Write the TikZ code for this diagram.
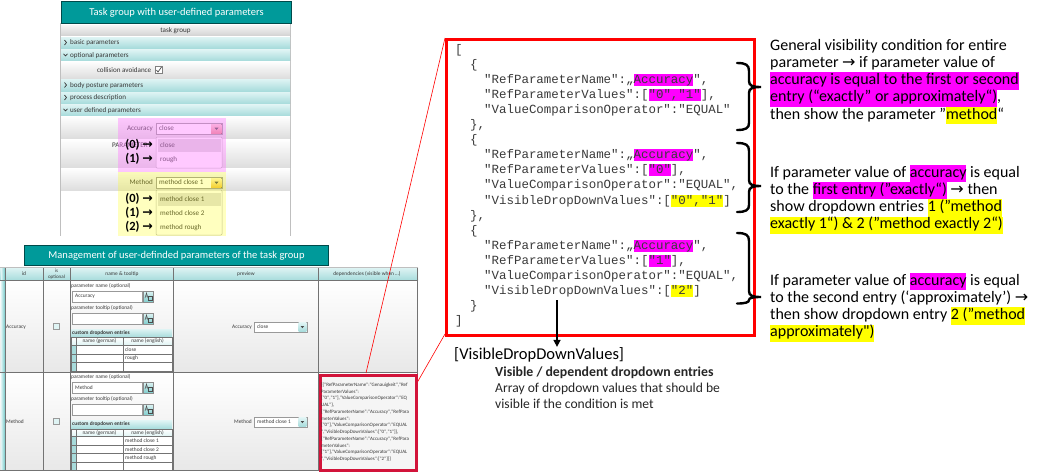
\documentclass[tikz,border=0pt]{standalone}
\usepackage{fontspec}
\setmainfont{Carlito}[Ligatures=TeXOff]
\newfontfamily\monof{Liberation Mono}[Ligatures=TeXOff]
\newfontfamily\dejavu{DejaVu Sans}
\usetikzlibrary{arrows.meta}
\definecolor{tealA}{HTML}{009A9A}
\definecolor{tealD}{HTML}{004A4A}
\definecolor{tealL1}{HTML}{DFF4F4}
\definecolor{tealL2}{HTML}{A8DCDC}
\definecolor{hlmag}{HTML}{FF00FF}
\definecolor{hlyel}{HTML}{FFFF00}
\definecolor{uitext}{HTML}{383838}
\definecolor{jsontext}{HTML}{3A3A3A}
\definecolor{depred}{HTML}{D2143A}
\definecolor{pinkov}{HTML}{FF80FF}
\definecolor{btnRa}{HTML}{F8D0D0}
\definecolor{btnRb}{HTML}{E88888}
\definecolor{btnYa}{HTML}{FFF4C0}
\definecolor{btnYb}{HTML}{F0C040}
\newcommand\hlM[1]{{\setlength\fboxsep{0pt}\colorbox{hlmag}{\strut #1}}}
\newcommand\hlY[1]{{\setlength\fboxsep{0pt}\colorbox{hlyel}{\strut #1}}}
\newcommand\jstrut{\vrule height 9.4pt depth 2.6pt width 0pt}
\newcommand\jM[1]{{\setlength\fboxsep{0pt}\colorbox{hlmag}{\jstrut #1}}}
\newcommand\jY[1]{{\setlength\fboxsep{0pt}\colorbox{hlyel}{\jstrut #1}}}
\newcommand\rarr{{\dejavu →}}
\newcommand\uiico[2]{%
  \fill[top color=tealL1, bottom color=tealA!50] (#1,#2) rectangle ++(9.5,11);
  \draw[black!45, line width=0.4pt] (#1,#2) rectangle ++(9.5,11);
  \draw[black!70, line width=0.5pt] (#1+1.5,#2+7) -- (#1+3,#2+2) -- (#1+4.5,#2+7) (#1+2.2,#2+5) -- (#1+3.8,#2+5);
  \draw[black!70, line width=0.5pt] (#1+5,#2+5) rectangle (#1+8.3,#2+9.3);}
\newcommand\uibox[2]{%
  \draw[black!40, fill=tealL1, line width=0.4pt] (#1,#2) rectangle ++(6,6);}
\tikzset{
  uit/.style={font=\fontsize{7.1}{8.2}\selectfont, text=uitext, inner sep=0pt, anchor=west},
  uis/.style={font=\fontsize{5.4}{6.4}\selectfont, text=uitext, inner sep=0pt, anchor=west},
  djson/.style={font=\fontsize{5}{6}\selectfont, text=uitext, inner sep=0pt, anchor=west},
  jline/.style={font=\monof\fontsize{12.45}{15.1}\selectfont, text=jsontext, inner sep=0pt, anchor=base west},
  rtext/.style={font=\fontsize{16}{17.3}\selectfont, text=black, inner sep=0pt, anchor=base west},
  btext/.style={font=\fontsize{13.6}{15.5}\selectfont, text=black!85, inner sep=0pt, anchor=base west},
  idx/.style={font=\bfseries\fontsize{12.5}{13}\selectfont, text=black, inner sep=0pt, anchor=east},
  titlebar/.style={fill=tealA, draw=tealD, line width=1.5pt, text=white, font=\fontsize{10.5}{12}\selectfont, anchor=north west, inner sep=0pt},
  secrow/.style={top color=tealL1, bottom color=tealL2},
  grayrow/.style={top color=white, bottom color=black!13},
  field/.style={draw=black!40, fill=white, line width=0.4pt},
  brace/.style={line width=2.4pt, black, line cap=round},
  chev/.style={line width=0.7pt, uitext},
  cellline/.style={draw=black!55, line width=0.5pt},
  redthin/.style={red, line width=0.6pt},
}
\begin{document}
\begin{tikzpicture}[x=1pt,y=-1pt]
\useasboundingbox (0,0) rectangle (1041,472);
\fill[white] (0,0) rectangle (1041,472);

% ================= top panel
\draw[black!25, line width=0.6pt] (60.5,23) -- (60.5,236) (290.5,23) -- (290.5,236);
\node[titlebar, minimum width=230pt, minimum height=22pt] (tgtitle) at (60.75,0.75) {Task group with user-defined parameters};
\fill[top color=black!4, bottom color=black!17] (61,25) rectangle (290,35.5);
\node[uit, anchor=center] (tg) at (175.5,30.3) {task group};
\fill[secrow] (61,37) rectangle (290,48);
\fill[secrow] (61,49.5) rectangle (290,60.5);
\fill[grayrow] (61,61) rectangle (290,78);
\fill[secrow] (61,79) rectangle (290,91);
\fill[secrow] (61,92) rectangle (290,103.5);
\fill[secrow] (61,104.5) rectangle (290,115.5);
\draw[chev] (64.5,40) -- (66.5,42.5) -- (64.5,45);
\node[uit] (s1) at (70,42.7) {basic parameters};
\draw[chev] (63.5,53.8) -- (65.5,55.8) -- (67.5,53.8);
\node[uit] (s2) at (70,55.2) {optional parameters};
\node[uit, anchor=east] (s3) at (151.5,70.5) {collision avoidance};
\draw[black!50, fill=white, line width=0.4pt] (155,66.5) rectangle (162,73.5);
\draw[black!70, line width=0.7pt] (156.5,70) -- (158,72) -- (161.5,67);
\draw[chev] (64.5,82.5) -- (66.5,85) -- (64.5,87.5);
\node[uit] (s4) at (70,85.2) {body posture parameters};
\draw[chev] (64.5,95) -- (66.5,97.5) -- (64.5,100);
\node[uit] (s5) at (70,97.8) {process description};
\draw[chev] (63.5,108.8) -- (65.5,110.8) -- (67.5,108.8);
\node[uit] (s6) at (70,110.2) {user defined parameters};
\fill[grayrow] (61,116) rectangle (290,138);
\fill[grayrow] (61,139) rectangle (290,167);
\fill[grayrow] (61,168) rectangle (290,190);
\node[uit] (pm) at (112,145.5) {PARAMETER};
% accuracy dropdown
\node[uit, anchor=east] (acl) at (153,128.5) {Accuracy};
\draw[field] (156,123) rectangle (222,134);
\node[uit] (acv) at (159,128.5) {close};
\fill[top color=btnRa, bottom color=btnRb] (211,124) rectangle (221.5,133.5);
\fill[black!70] (214.5,127.7) -- (218.5,127.7) -- (216.5,130) -- cycle;
\draw[black!30, fill=white, rounded corners=1pt, line width=0.5pt] (156,137) rectangle (222,168);
\fill[black!14] (157.5,139) rectangle (220.5,152);
\node[uit] (acla) at (160,145.5) {close};
\node[uit] (aclb) at (160,159.5) {rough};
% method dropdown
\node[uit, anchor=east] (mel) at (153,182.5) {Method};
\draw[field] (156,177) rectangle (222,188);
\node[uit] (mev) at (159,182.5) {method close 1};
\fill[top color=btnYa, bottom color=btnYb] (211,178) rectangle (221.5,187.5);
\fill[black!70] (214.5,181.7) -- (218.5,181.7) -- (216.5,184) -- cycle;
\draw[black!30, fill=white, rounded corners=1pt, line width=0.5pt] (156,190) rectangle (222,235);
\fill[black!12] (157.5,192.5) rectangle (220.5,206);
\node[uit] (mela) at (160,199.5) {method close 1};
\node[uit] (melb) at (160,213.5) {method close 2};
\node[uit] (melc) at (160,227.5) {method rough};
% overlays
\fill[pinkov, fill opacity=0.42] (118,118) rectangle (226,172);
\fill[hlyel, fill opacity=0.25] (118,172) rectangle (226,236);
\node[idx] (ia0) at (153,145) {(0) \rarr};
\node[idx] (ia1) at (153,159) {(1) \rarr};
\node[idx] (im0) at (153,199) {(0) \rarr};
\node[idx] (im1) at (153,213) {(1) \rarr};
\node[idx] (im2) at (153,227) {(2) \rarr};

% ================= management table
\node[titlebar, minimum width=304pt, minimum height=20pt] (mgtitle) at (23.75,244.75) {Management of user-definded parameters of the task group};
\fill[top color=tealL1, bottom color=tealL2] (0,267.5) rectangle (418,280);
\fill[top color=white, bottom color=black!9] (0,281) rectangle (418,372);
\fill[top color=white, bottom color=black!9] (0,373) rectangle (418,470);
\fill[left color=tealL1, right color=tealA!55] (1,267.5) rectangle (5,470);
\foreach \xx in {5,43,70,173,318,417.5} \draw[cellline] (\xx,267.5) -- (\xx,470.5);
\draw[cellline] (0,280.5) -- (418,280.5) (0,372.5) -- (418,372.5) (0,470.5) -- (418,470.5);
\draw[black!25, line width=0.5pt] (0,267.5) -- (418,267.5);
\node[uis, anchor=center] (hid) at (24,274) {id};
\node[uis, anchor=center, align=center, font=\fontsize{5}{5.6}\selectfont] (hopt) at (56.5,274) {is\\optional};
\node[uis, anchor=center] (hname) at (122,274) {name \& tooltip};
\node[uis, anchor=center] (hprev) at (246,274) {preview};
\node[uis, anchor=center] (hdep) at (367,274) {dependencies (visible when …)};
% row 1
\node[uis] (rAid) at (6,327) {Accuracy};
\uibox{53.5}{323.5}
\node[uis] (rApn) at (71,285.5) {parameter name (optional)};
\draw[field] (72,291) rectangle (142,302);
\node[uis] (rApnv) at (75,296.5) {Accuracy};
\uiico{143.5}{291}
\node[uis] (rApt) at (71,308) {parameter tooltip (optional)};
\draw[field] (72,313) rectangle (142,324);
\uiico{143.5}{313}
\fill[secrow] (71,329) rectangle (172,337);
\node[uis, font=\bfseries\fontsize{5.4}{6.4}\selectfont] (rAcd) at (72,333) {custom dropdown entries};
\fill[top color=white, bottom color=tealL1] (71,337.5) rectangle (172,345);
\fill[white] (71,345) rectangle (172,371);
\foreach \yy in {345.5,354,362.5} \fill[tealL2] (71.5,\yy) rectangle (75.5,\yy+8);
\draw[cellline] (71,337.5) rectangle (172,371);
\draw[cellline] (71,345) -- (172,345) (71,354) -- (172,354) (71,362.5) -- (172,362.5) (123,337.5) -- (123,371) (76,337.5) -- (76,371);
\node[uis, anchor=center] (rAg) at (99.5,341.3) {name (german)};
\node[uis, anchor=center] (rAe) at (147.5,341.3) {name (english)};
\node[uis] (rAi1) at (125,349.8) {close};
\node[uis] (rAi2) at (125,358.3) {rough};
\node[uis, anchor=east] (rApv) at (252,327) {Accuracy};
\draw[field] (254,322) rectangle (307,332);
\node[uis] (rApvv) at (257,327) {close};
\fill[top color=tealL1, bottom color=tealL2] (298.5,322.8) rectangle (306.3,331.2);
\fill[black!70] (300.6,326) -- (304.2,326) -- (302.4,328.2) -- cycle;
% row 2
\node[uis] (rBid) at (6,422) {Method};
\uibox{53.5}{418.5}
\node[uis] (rBpn) at (71,376.5) {parameter name (optional)};
\draw[field] (72,382) rectangle (142,393);
\node[uis] (rBpnv) at (75,387.5) {Method};
\uiico{143.5}{382}
\node[uis] (rBpt) at (71,399) {parameter tooltip (optional)};
\draw[field] (72,404) rectangle (142,415);
\uiico{143.5}{404}
\fill[secrow] (71,420.5) rectangle (172,428.5);
\node[uis, font=\bfseries\fontsize{5.4}{6.4}\selectfont] (rBcd) at (72,424.5) {custom dropdown entries};
\fill[top color=white, bottom color=tealL1] (71,429) rectangle (172,436.5);
\fill[white] (71,436.5) rectangle (172,470);
\foreach \yy in {437,445.5,454,462.5} \fill[tealL2] (71.5,\yy) rectangle (75.5,\yy+8);
\draw[cellline] (71,429) rectangle (172,470);
\draw[cellline] (71,436.5) -- (172,436.5) (71,445) -- (172,445) (71,453.5) -- (172,453.5) (71,462) -- (172,462) (123,429) -- (123,470) (76,429) -- (76,470);
\node[uis, anchor=center] (rBg) at (99.5,432.8) {name (german)};
\node[uis, anchor=center] (rBe) at (147.5,432.8) {name (english)};
\node[uis] (rBi1) at (125,441) {method close 1};
\node[uis] (rBi2) at (125,449.5) {method close 2};
\node[uis] (rBi3) at (125,458) {method rough};
\node[uis, anchor=east] (rBpv) at (252,422) {Method};
\draw[field] (254,417) rectangle (307,427);
\node[uis] (rBpvv) at (257,422) {method close 1};
\fill[top color=tealL1, bottom color=tealL2] (298.5,417.8) rectangle (306.3,426.2);
\fill[black!70] (300.6,421) -- (304.2,421) -- (302.4,423.2) -- cycle;

% ================= zoom lines and boxes
\coordinate (jnw) at (445,38);
\coordinate (dnw) at (319,374);
\coordinate (dtop) at (366,373);
\coordinate (dbot) at (367,470);
\draw[redthin] (dtop) -- (jnw);
\draw[redthin] (dbot) -- (445,334);
\node[draw=depred, line width=2.5pt, fill=black!4, minimum width=96pt, minimum height=95pt, anchor=north west, inner sep=0pt] (dep) at (dnw) {};
\begin{scope}
\clip (320.5,375.5) rectangle (414,468);
\node[djson] (d0) at (321,385) {[\{"RefParameterName":"Genauigkeit","Ref};
\node[djson] (d1) at (321,391.7) {ParameterValues":};
\node[djson] (d2) at (321,398.4) {["0","1"],"ValueComparisonOperator":"EQ};
\node[djson] (d3) at (321,405.1) {UAL"\},};
\node[djson] (d4) at (321,411.8) {\{"RefParameterName":"Accuracy","RefPara};
\node[djson] (d5) at (321,418.5) {meterValues":};
\node[djson] (d6) at (321,425.2) {["0"],"ValueComparisonOperator":"EQUAL};
\node[djson] (d7) at (321,431.9) {","VisibleDropDownValues":["0","1"]\},};
\node[djson] (d8) at (321,438.6) {\{"RefParameterName":"Accuracy","RefPara};
\node[djson] (d9) at (321,445.3) {meterValues":};
\node[djson] (d10) at (321,452) {["1"],"ValueComparisonOperator":"EQUAL};
\node[djson] (d11) at (321,458.7) {","VisibleDropDownValues":["2"]\}]};
\end{scope}

\node[draw=red, line width=2.5pt, minimum width=308pt, minimum height=296pt, anchor=north west, inner sep=0pt] (jbox) at (jnw) {};
\node[jline] (j0) at (455,53) {[};
\node[jline] (j1) at (470,68.1) {\{};
\node[jline] (j2) at (484,83.2) {"RefParameterName":„\jM{Accuracy}",};
\node[jline] (j3) at (484,98.3) {"RefParameterValues":[\jM{"0","1"}],};
\node[jline] (j4) at (484,113.4) {"ValueComparisonOperator":"EQUAL"};
\node[jline] (j5) at (470,128.5) {\},};
\node[jline] (j6) at (470,143.6) {\{};
\node[jline] (j7) at (484,158.7) {"RefParameterName":„\jM{Accuracy}",};
\node[jline] (j8) at (484,173.8) {"RefParameterValues":[\jM{"0"}],};
\node[jline] (j9) at (484,188.9) {"ValueComparisonOperator":"EQUAL",};
\node[jline] (j10) at (484,204) {"VisibleDropDownValues":[\jY{"0","1"}]};
\node[jline] (j11) at (470,219.1) {\},};
\node[jline] (j12) at (470,234.2) {\{};
\node[jline] (j13) at (484,249.3) {"RefParameterName":„\jM{Accuracy}",};
\node[jline] (j14) at (484,264.4) {"RefParameterValues":[\jM{"1"}],};
\node[jline] (j15) at (484,279.5) {"ValueComparisonOperator":"EQUAL",};
\node[jline] (j16) at (484,294.6) {"VisibleDropDownValues":[\jY{"2"}]};
\node[jline] (j17) at (470,309.7) {\}};
\node[jline] (j18) at (455,324.8) {]};

% braces
\draw[brace] (737,63) .. controls (746,63) and (749,65) .. (749,71) -- (749,81) .. controls (749,85.5) and (752,87) .. (761,87) .. controls (752,87) and (749,88.5) .. (749,93) -- (749,123) .. controls (749,128) and (746,130) .. (737,130);
\draw[brace] (737,143) .. controls (746,143) and (749,145) .. (749,151) -- (749,180) .. controls (749,184.5) and (752,186) .. (761,186) .. controls (752,186) and (749,187.5) .. (749,192) -- (749,205) .. controls (749,210) and (746,212) .. (737,212);
\draw[brace] (737,233) .. controls (746,233) and (749,235) .. (749,241) -- (749,291) .. controls (749,295.5) and (752,297) .. (761,297) .. controls (752,297) and (749,298) .. (749,300) .. controls (749,302.5) and (745,303.5) .. (737,303.5);

% right texts
\node[rtext] (t1a) at (770,50) {General visibility condition for entire};
\node[rtext] (t1b) at (770,67.3) {parameter \rarr{} if parameter value of};
\node[rtext] (t1c) at (770,84.6) {\hlM{accuracy is equal to the first or second}};
\node[rtext] (t1d) at (770,101.9) {\hlM{entry (“exactly” or approximately“)},};
\node[rtext] (t1e) at (770,119.2) {then show the parameter ”\hlY{method}“};
\node[rtext] (t2a) at (770,177) {If parameter value of \hlM{accuracy} is equal};
\node[rtext] (t2b) at (770,194.3) {to the \hlM{first entry (”exactly“)} \rarr{} then};
\node[rtext] (t2c) at (770,211.6) {show dropdown entries \hlY{1 (”method}};
\node[rtext] (t2d) at (770,228.9) {\hlY{exactly 1“) \& 2 (”method exactly 2“)}};
\node[rtext] (t3a) at (770,285) {If parameter value of \hlM{accuracy} is equal};
\node[rtext] (t3b) at (770,302.3) {to the second entry (‘approximately’) \rarr};
\node[rtext] (t3c) at (770,319.6) {then show dropdown entry \hlY{2 (”method}};
\node[rtext] (t3d) at (770,336.9) {\hlY{approximately")}};

% bottom explanation
\node[font=\fontsize{16.5}{20}\selectfont, inner sep=0pt, anchor=base west] (vdd) at (454,359) {[VisibleDropDownValues]};
\node[btext, font=\bfseries\fontsize{13.8}{15.5}\selectfont] (vda) at (495,376.8) {Visible / dependent dropdown entries};
\node[btext] (vdb) at (495,392) {Array of dropdown values that should be};
\node[btext] (vdc) at (495,408) {visible if the condition is met};
\coordinate (arrS) at (557,300);
\draw[line width=1.5pt, -{Triangle[width=7pt,length=7pt]}] (arrS) -- (arrS |- vdd.north);
\end{tikzpicture}
\end{document}
